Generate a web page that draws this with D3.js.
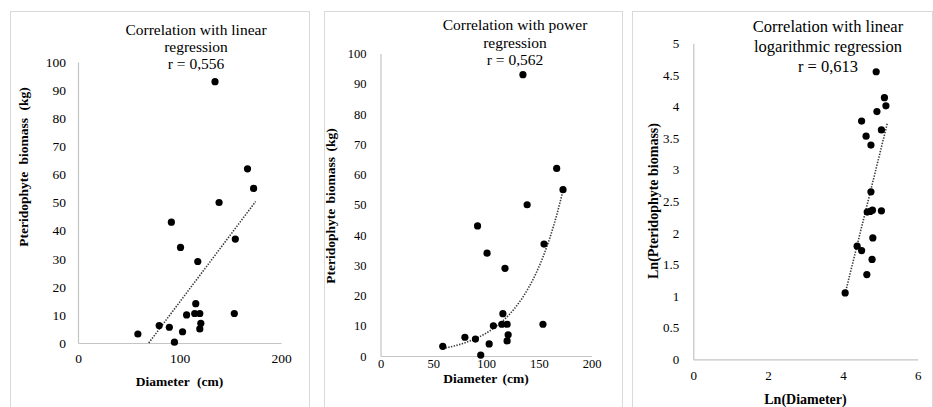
<!DOCTYPE html>
<html>
<head>
<meta charset="utf-8">
<script src="https://cdn.jsdelivr.net/npm/d3@7"></script>
<style>
  html, body { margin: 0; padding: 0; background: #fff; }
  svg { display: block; }
  svg text { font-family: "Liberation Serif", "Times New Roman", serif !important; fill: #000; }
</style>
</head>
<body>
<svg id="chart" width="933" height="407"></svg>
<script>
// ---------- data ----------
const diameter = [59, 80, 90, 95, 92, 101, 103, 107, 118, 116, 115, 120, 121, 120, 135, 139, 155, 154, 167, 173];
const biomass  = [3.2, 6.2, 5.6, 0.3, 43, 34, 4, 10, 29, 14, 10.5, 10.5, 7, 5, 93, 50, 37, 10.5, 62, 55];

const lnDiameter = [4.06, 4.38, 4.50, 4.64, 4.78, 4.80, 4.75, 4.65, 4.73, 4.79, 5.03, 4.50, 4.62, 4.75, 5.03, 4.91, 5.11, 5.15, 4.89];
const lnBiomass  = [1.05, 1.79, 1.72, 1.34, 1.58, 1.92, 2.65, 2.33, 2.34, 2.36, 2.35, 3.77, 3.53, 3.39, 3.63, 3.92, 4.14, 4.01, 4.55];

// trend-line coefficients and their x extents
const linearTrend = [0.478, -33.3];     // y = a*x + b
const linearTrendX = [69.7, 175];
const powerTrend = [0.496, 0.0272];     // y = a*exp(b*x)
const powerTrendX = [59, 174];
const logTrend = [2.39, -8.664];        // y = a*x + b
const logTrendX = [4.06, 5.19];

const titles1 = ["Correlation with linear", "regression", "r = 0,556"];
const titles2 = ["Correlation with power", "regression", "r = 0,562"];
const titles3 = ["Correlation with linear", "logarithmic regression", "r = 0,613"];

const xTicks1 = [0, 100, 200];
const yTicks1 = [0, 10, 20, 30, 40, 50, 60, 70, 80, 90, 100];
const xTicks2 = [0, 50, 100, 150, 200];
const yTicks2 = [0, 10, 20, 30, 40, 50, 60, 70, 80, 90, 100];
const xTicks3 = [0, 2, 4, 6];
const yTicks3 = [0, 0.5, 1, 1.5, 2, 2.5, 3, 3.5, 4, 4.5, 5];

// ---------- drawing ----------
const FONT = "'Liberation Serif', 'Times New Roman', serif";
const svg = d3.select("#chart");
const borderColor = "#d9d9d9";
const axisColor = "#c4c4c4";

function panel(cfg) {
  const g = svg.append("g");
  g.append("rect")
    .attr("x", cfg.box[0] + 0.5).attr("y", cfg.box[1] + 0.5)
    .attr("width", cfg.box[2]).attr("height", cfg.box[3])
    .attr("fill", "#fff").attr("stroke", borderColor).attr("stroke-width", 1);

  const x = d3.scaleLinear().domain(cfg.xDomain).range(cfg.xRange);
  const y = d3.scaleLinear().domain(cfg.yDomain).range(cfg.yRange);

  // axes
  const xAxis = d3.axisBottom(x).tickValues(cfg.xTicks).tickSize(0).tickPadding(cfg.xPad).tickFormat(d => String(d));
  const yAxis = d3.axisLeft(y).tickValues(cfg.yTicks).tickSize(0).tickPadding(cfg.yPad).tickFormat(d => String(d));
  const gx = g.append("g").attr("transform", `translate(0,${cfg.yRange[0]})`).call(xAxis);
  const gy = g.append("g").attr("transform", `translate(${cfg.xRange[0]},0)`).call(yAxis);
  [gx, gy].forEach(a => {
    a.attr("font-family", null).attr("font-size", null);
    a.select(".domain").attr("stroke", axisColor).attr("stroke-width", 1.2);
    a.selectAll("text").style("font-family", FONT)
      .style("font-size", cfg.tickSize).attr("fill", "#000");
  });

  // trend
  const line = d3.line().x(d => x(d[0])).y(d => y(d[1]));
  g.append("path")
    .attr("d", line(cfg.trend))
    .attr("fill", "none").attr("stroke", "#3a3a3a")
    .attr("stroke-width", 1.6).attr("stroke-dasharray", "1.4 1.4");

  // points
  g.selectAll("circle.pt").data(cfg.xs.map((v, i) => [v, cfg.ys[i]]))
    .enter().append("circle").attr("class", "pt")
    .attr("cx", d => x(d[0])).attr("cy", d => y(d[1])).attr("r", 3.6).attr("fill", "#000");

  // title
  const t = g.append("text").attr("text-anchor", "middle")
    .style("font-family", FONT).style("font-size", cfg.titleSize);
  cfg.titles.forEach((s, i) => {
    t.append("tspan").attr("x", cfg.titlePos[0]).attr("y", cfg.titlePos[1] + i * cfg.titleLead).text(s);
  });

  // axis titles
  g.append("text").attr("text-anchor", "middle")
    .style("font-family", FONT).style("font-weight", "bold").style("font-size", cfg.axisTitleSize)
    .style("word-spacing", cfg.wordSpacing)
    .attr("x", cfg.xTitlePos[0]).attr("y", cfg.xTitlePos[1])
    .text(cfg.xTitle);
  g.append("text").attr("text-anchor", "middle")
    .style("font-family", FONT).style("font-weight", "bold").style("font-size", cfg.axisTitleSize)
    .style("word-spacing", cfg.wordSpacing)
    .attr("dy", "0.35em")
    .attr("transform", `translate(${cfg.yTitlePos[0]},${cfg.yTitlePos[1]}) rotate(-90)`)
    .text(cfg.yTitle);
}

function sampleCurve(ext, f, n) {
  return d3.range(n + 1).map(i => {
    const xv = ext[0] + (ext[1] - ext[0]) * i / n;
    return [xv, f(xv)];
  });
}

panel({
  box: [10, 11, 299, 420],
  xDomain: [0, 200], xRange: [78, 281],
  yDomain: [0, 100], yRange: [343, 62],
  xTicks: xTicks1, yTicks: yTicks1, xPad: 10, yPad: 12, tickSize: "13.5px",
  xs: diameter, ys: biomass,
  trend: sampleCurve(linearTrendX, v => linearTrend[0] * v + linearTrend[1], 1),
  titles: titles1, titlePos: [196, 35], titleLead: 17, titleSize: "15.5px",
  xTitle: "Diameter (cm)", xTitlePos: [179.5, 386],
  yTitle: "Pteridophyte biomass (kg)", yTitlePos: [23, 167],
  axisTitleSize: "13.5px", wordSpacing: "4px"
});

panel({
  box: [324, 11, 298, 420],
  xDomain: [0, 200], xRange: [380.5, 591.5],
  yDomain: [0, 100], yRange: [356, 53.5],
  xTicks: xTicks2, yTicks: yTicks2, xPad: 3, yPad: 14, tickSize: "12.5px",
  xs: diameter, ys: biomass,
  trend: sampleCurve(powerTrendX, v => powerTrend[0] * Math.exp(powerTrend[1] * v), 60),
  titles: titles2, titlePos: [515, 30], titleLead: 17.5, titleSize: "15.5px",
  xTitle: "Diameter (cm)", xTitlePos: [486, 383],
  yTitle: "Pteridophyte biomass (kg)", yTitlePos: [330, 206],
  axisTitleSize: "13.5px", wordSpacing: "2px"
});

panel({
  box: [632, 11, 300, 420],
  xDomain: [0, 6], xRange: [693.3, 917.7],
  yDomain: [0, 5], yRange: [359.3, 43.3],
  xTicks: xTicks3, yTicks: yTicks3, xPad: 11, yPad: 14, tickSize: "13px",
  xs: lnDiameter, ys: lnBiomass,
  trend: sampleCurve(logTrendX, v => logTrend[0] * v + logTrend[1], 1),
  titles: titles3, titlePos: [828, 32], titleLead: 20, titleSize: "16.5px",
  xTitle: "Ln(Diameter)", xTitlePos: [805.5, 404],
  yTitle: "Ln(Pteridophyte biomass)", yTitlePos: [653, 201],
  axisTitleSize: "14px", wordSpacing: "0px"
});
</script>
</body>
</html>
